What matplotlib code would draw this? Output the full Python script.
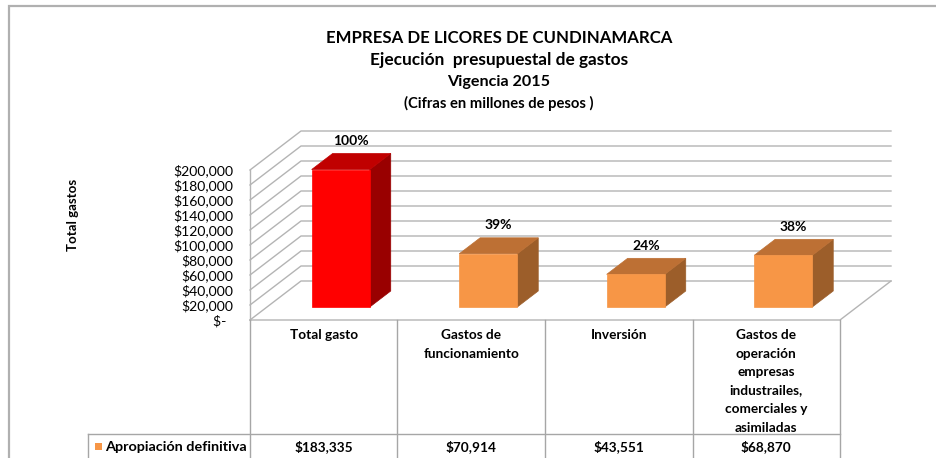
import matplotlib
matplotlib.use("Agg")
import matplotlib.pyplot as plt
from matplotlib.patches import Polygon, Rectangle
from matplotlib.lines import Line2D
import matplotlib.transforms as mtransforms
from matplotlib.ticker import FuncFormatter

# ---------------- data ----------------
categories = [
    ["Total gasto"],
    ["Gastos de", "funcionamiento"],
    ["Inversión"],
    ["Gastos de", "operación", "empresas", "industrailes,", "comerciales y", "asimiladas"],
]
values = [183335, 70914, 43551, 68870]
percent_labels = ["100%", "39%", "24%", "38%"]
value_labels = ["$183,335", "$70,914", "$43,551", "$68,870"]
series_name = "Apropiación definitiva"
yticks = [0, 20000, 40000, 60000, 80000, 100000, 120000, 140000, 160000, 180000, 200000]
title_lines = [
    "EMPRESA DE LICORES DE CUNDINAMARCA",
    "Ejecución  presupuestal de gastos",
    "Vigencia 2015",
    "(Cifras en millones de pesos )",
]
y_label = "Total gastos"

# ---------------- styles ----------------
front_colors = ["#FF0000", "#F79646", "#F79646", "#F79646"]
top_colors = ["#C00000", "#BD7034", "#BD7034", "#BD7034"]
side_colors = ["#990000", "#9C5E2A", "#9C5E2A", "#9C5E2A"]
grid_color = "#B4B4B4"
table_color = "#A6A6A6"

plt.rcParams['font.family'] = ['Lato', 'DejaVu Sans']

W, H = 937, 458
fig = plt.figure(figsize=(W / 100, H / 100), dpi=100)
fig.patch.set_facecolor("white")


def fx(px):
    return px / W


def fy(py):
    return 1 - py / H


# front plane: origin at pixel (250, 320)
X0, Y0 = 250, 320
PXC = 147.5            # pixels per category
PXV = 150 / 200000     # pixels per value unit
AX_RIGHT, AX_TOP = 905, 110

ax = fig.add_axes([fx(X0), fy(Y0), (AX_RIGHT - X0) / W, (Y0 - AX_TOP) / H])
ax.set_xlim(0, (AX_RIGHT - X0) / PXC)
ax.set_ylim(0, (Y0 - AX_TOP) / PXV)
ax.patch.set_alpha(0)
for s in ax.spines.values():
    s.set_visible(False)
ax.set_xticks([])
ax.set_yticks(yticks)
ax.yaxis.set_major_formatter(FuncFormatter(lambda v, p: "$-  " if v == 0 else "${:,.0f}".format(v)))
ax.tick_params(axis='y', length=0, pad=12, labelsize=10.1)

# depth vector in data units
DX = 51 / PXC
DY = 39 / PXV
N = len(values)


def P(x, y, z):
    return (x + z * DX, y + z * DY)


# walls / gridlines
for v in yticks:
    a, b, c = P(0, v, 0), P(0, v, 1), P(N, v, 1)
    ax.add_line(Line2D([a[0], b[0], c[0]], [a[1], b[1], c[1]], color=grid_color, lw=1, clip_on=False, zorder=1))
# left wall front edge
a, b = P(0, 0, 0), P(0, yticks[-1], 0)
ax.add_line(Line2D([a[0], b[0]], [a[1], b[1]], color=grid_color, lw=1, clip_on=False, zorder=1))
# floor front & right edges
a, b, c = P(0, 0, 0), P(N, 0, 0), P(N, 0, 1)
ax.add_line(Line2D([a[0], b[0], c[0]], [a[1], b[1], c[1]], color=grid_color, lw=1, clip_on=False, zorder=1))

# bars
half_w = 0.197
z0, z1 = 0.333, 0.744
for i, v in enumerate(values):
    xc = i + 0.5
    xl, xr = xc - half_w, xc + half_w
    front = [P(xl, 0, z0), P(xr, 0, z0), P(xr, v, z0), P(xl, v, z0)]
    top = [P(xl, v, z0), P(xr, v, z0), P(xr, v, z1), P(xl, v, z1)]
    side = [P(xr, 0, z0), P(xr, 0, z1), P(xr, v, z1), P(xr, v, z0)]
    for poly, col in [(side, side_colors[i]), (top, top_colors[i]), (front, front_colors[i])]:
        ax.add_patch(Polygon(poly, closed=True, facecolor=col, edgecolor=col, lw=0.5, zorder=3, clip_on=False))
    lx, ly = P(xc, v, (z0 + z1) / 2)
    ax.annotate(percent_labels[i], (lx, ly), xytext=(0, 15), textcoords="offset points",
                ha="center", va="center", fontsize=10, fontweight="bold", zorder=5)

# ---------------- data table ----------------
blend = mtransforms.blended_transform_factory(ax.transData, fig.transFigure)
x_leg = (88 - X0) / PXC
for k in range(N + 1):
    ax.add_line(Line2D([k, k], [fy(Y0), fy(H + 5)], transform=blend, color=table_color, lw=1, clip_on=False))
ax.add_line(Line2D([x_leg, N], [fy(434), fy(434)], transform=blend, color=table_color, lw=1, clip_on=False))
ax.add_line(Line2D([x_leg, x_leg], [fy(434), fy(H + 5)], transform=blend, color=table_color, lw=1, clip_on=False))

for i, lines in enumerate(categories):
    for j, t in enumerate(lines):
        ax.text(i + 0.5, fy(335 + j * 18.5), t, transform=blend, ha="center", va="center",
                fontsize=9.8, fontweight="bold", clip_on=False)
    ax.text(i + 0.5, fy(447), value_labels[i], transform=blend, ha="center", va="center",
            fontsize=9.8, fontweight="bold", clip_on=False)

fig.add_artist(Rectangle((fx(95), fy(450)), 7 / W, 7 / H, transform=fig.transFigure,
                         facecolor=front_colors[1], edgecolor="none"))
fig.text(fx(105), fy(447), series_name, ha="left", va="center", fontsize=10.4, fontweight="bold")

# ---------------- titles ----------------
title_y = [38, 60, 82, 103]
title_size = [12.1, 12.4, 11.6, 10.6]
for t, yy, sz in zip(title_lines, title_y, title_size):
    fig.text(fx(499), fy(yy), t, ha="center", va="center", fontsize=sz, fontweight="bold")

fig.text(fx(73), fy(215), y_label, rotation=90, ha="center", va="center", fontsize=9.5, fontweight="bold")

# chart border (left and top only)
fig.add_artist(Line2D([fx(9.5), fx(9.5), 1.0], [0.0, fy(6), fy(6)], transform=fig.transFigure,
                      color="#B0B0B0", lw=1.6, solid_joinstyle="miter"))

fig.savefig("out.png", dpi=100, facecolor="white")
